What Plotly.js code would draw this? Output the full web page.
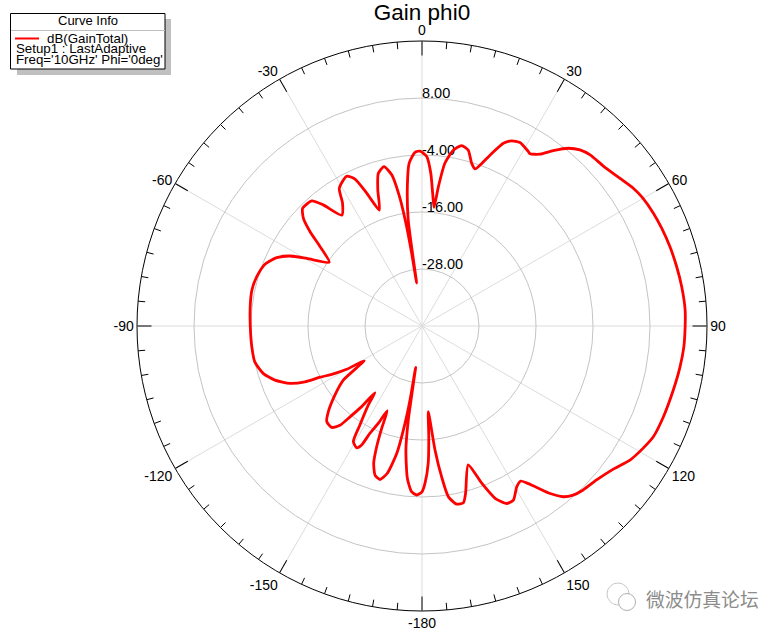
<!DOCTYPE html>
<html><head><meta charset="utf-8">
<script src="https://cdn.plot.ly/plotly-3.0.1.min.js"></script>
<style>html,body{margin:0;padding:0;background:#fff}</style></head>
<body><div id="chart" style="width:783px;height:633px"></div>
<script>
const thetaDeg = [-180,-178.2,-176.4,-174.5,-172.6,-171.7,-171.3,-170.8,-170.1,-168.8,-166.75,-164.7,-162.5,-160.6,-159.4,-158.5,-157.7,-155.8,-154.1,-153.1,-151.8,-149.3,-147.9,-145.8,-144.8,-143.2,-141.6,-140.4,-138.3,-135.1,-132.4,-128.4,-124.5,-121,-119.9,-118.4,-116.7,-115.5,-113.5,-110.2,-106.6,-102.1,-96.9,-90.2,-83.6,-78.1,-73.4,-68.4,-64.8,-62.1,-59.6,-55.5,-52.1,-49.9,-47.8,-45.4,-41.4,-39.2,-35.9,-32.9,-31,-26.7,-24.5,-22.6,-20.2,-18,-16,-13.4,-11.3,-9.8,-8.8,-8.1,-7.1,-7.4,-6,-4.5,-2.3,-0.65,1.6,3.3,4.6,5.8,6.7,8,10.1,12.4,14.7,17,18.7,21.7,24,25.8,28.1,31.4,32.1,34.5,36.8,39.5,41.9,44.5,48.6,53.3,56.9,59.8,64,67.8,72.3,76.9,81.4,86.5,90.1,94.5,99,104.3,110.6,115.6,118.9,122.8,126.8,131.4,135.5,138.2,140.4,142.6,144.6,146.3,147.5,149.5,152.3,154.5,157,159.2,161.6,165.4,166.8,169,171.2,172.6,174,175.8,176.5,177.4,178.9,180];
const gainDb = [-5.1,-4.4,-5.05,-7.8,-13.7,-20,-31.2,-24.2,-19.2,-12.7,-8.15,-6.5,-7.1,-9.4,-12.9,-16.8,-20.7,-17.5,-14.9,-11.9,-10.9,-11.7,-15.4,-19.9,-22.8,-18.8,-15.6,-12.9,-11.4,-11.6,-13.3,-16.6,-19.9,-25.8,-21.7,-18.8,-16,-12.7,-9.7,-7,-5.1,-4,-3.9,-3.85,-3.6,-3.4,-3.7,-4.5,-6.2,-8.5,-11.9,-16.3,-12.8,-9.2,-6.3,-4.7,-4.9,-7.1,-11.2,-9.2,-6.2,-4.7,-6,-9.7,-14,-9.9,-6.6,-5.5,-7.6,-12.7,-18.8,-24.5,-30.9,-17.5,-10.5,-5.6,-3.4,-3.2,-4.3,-7.8,-12,-14.9,-10.5,-5.4,-2.4,-1.1,-1.7,-4.2,-5.1,-1.3,2.1,3.3,3.8,3,2.8,3.9,6.1,8.5,9.8,10.5,10.9,12,13.1,13.7,14.2,14.5,14.8,15.05,15.3,15.5,15.4,15.3,15,14.6,14.3,14,13.2,12.1,10.3,9,8.4,7.75,6.65,4.4,1.7,-0.3,-1.3,-0.7,1.4,1.4,-0.6,-4.6,-9.2,-3.6,-1.8,-1.8,-3.6,-8,-13.7,-21.9,-16.6,-11.1,-6.9,-5.1];
const angleTicks = [0,30,60,90,120,150,180,210,240,270,300,330];
const angleLabels = ['0','30','60','90','120','150','-180','-150','-120','-90','-60','-30'];
const radialTicks = [-28,-16,-4,8];
const radialLabels = ['-28.00','-16.00','-4.00','8.00'];
const legendLines = ["Setup1 : LastAdaptive","Freq='10GHz' Phi='0deg'"];

const minorT=[],minorR=[];
for(let a=0;a<360;a+=5){ if(a%30===0) continue; minorT.push(a,a,null); minorR.push(20,18.5,null); }

const font='Liberation Sans, Arial, sans-serif';
const W=783,H=633;
const px=x=>x/W, py=y=>1-y/H;
function box(x0,y0,x1,y1,o){return Object.assign({type:'rect',xref:'paper',yref:'paper',x0:px(x0),x1:px(x1),y0:py(y0),y1:py(y1)},o);}
function circ(cx,cy,r,o){return box(cx-r,cy-r,cx+r,cy+r,Object.assign({type:'circle'},o));}
function seg(x0,y0,x1,y1,c,w){return {type:'line',xref:'paper',yref:'paper',x0:px(x0),x1:px(x1),y0:py(y0),y1:py(y1),line:{color:c,width:w}};}
function label(x,y,t,anchor,size,color,fam){return {xref:'paper',yref:'paper',x:px(x),y:py(y),text:t,showarrow:false,xanchor:anchor,yanchor:'middle',borderpad:0,font:{family:fam||font,size:size,color:color||'#000'}};}

const traces=[
 {type:'scatterpolar',mode:'lines',theta:minorT,r:minorR,line:{color:'#000',width:1},hoverinfo:'skip',showlegend:false,connectgaps:false},
 {type:'scatterpolar',mode:'text',theta:radialTicks.map(()=>0),r:radialTicks.map(v=>v+0.7),text:radialLabels,textposition:'middle right',textfont:{family:font,size:14.5,color:'#000'},hoverinfo:'skip',showlegend:false,cliponaxis:false},
 {type:'scatterpolar',mode:'lines',theta:thetaDeg,r:gainDb,line:{color:'#ff0000',width:2.8,shape:'spline',smoothing:0.6},showlegend:false,name:'dB(GainTotal)'}
];
const layout={
 width:W,height:H,margin:{l:0,r:0,t:0,b:0},paper_bgcolor:'#fff',showlegend:false,
 font:{family:font,size:14,color:'#000'},
 title:{text:'Gain phi0',x:422/W,xanchor:'center',y:1-12.5/H,yanchor:'middle',font:{family:font,size:22.5,color:'#000'}},
 polar:{
  domain:{x:[137/W,707/W],y:[22/H,592/H]},bgcolor:'#fff',
  angularaxis:{rotation:90,direction:'clockwise',tickmode:'array',tickvals:angleTicks,ticktext:angleLabels,ticks:'inside',ticklen:14,tickwidth:1,tickcolor:'#000',linecolor:'#000',linewidth:1,showline:true,gridcolor:'#dcdcdc',gridwidth:1,tickfont:{family:font,size:14,color:'#000'}},
  radialaxis:{range:[-40,20],angle:90,tickmode:'array',tickvals:radialTicks,showticklabels:false,showline:false,ticks:'',gridcolor:'#c4c4c4',gridwidth:1}
 },
 shapes:[
  box(17,19,171,75,{fillcolor:'#c0c0c0',line:{width:0}}),
  box(10.5,13.5,165,69,{fillcolor:'#fff',line:{color:'#000',width:1}}),
  seg(11,30.5,165,30.5,'#c0c0c0',1),
  seg(15,38.5,39,38.5,'#ff0000',2),
  circ(618,594,11,{fillcolor:'rgba(255,255,255,0)',line:{color:'#c8c8c8',width:1}}),
  circ(627,602,8.5,{fillcolor:'#fff',line:{color:'#b0b0b0',width:1}})
 ],
 annotations:[
  label(88,20.5,'Curve Info','center',13),
  label(46,38,'dB(GainTotal)','left',13.3),
  label(15,48.5,legendLines[0],'left',13.3),
  label(15,60,legendLines[1],'left',13.3),
  label(645,598,'微波仿真论坛','left',18.8,'#8c8c8c','Noto Sans CJK SC')
 ]
};
Plotly.newPlot('chart',traces,layout,{displayModeBar:false,staticPlot:true});
</script></body></html>
